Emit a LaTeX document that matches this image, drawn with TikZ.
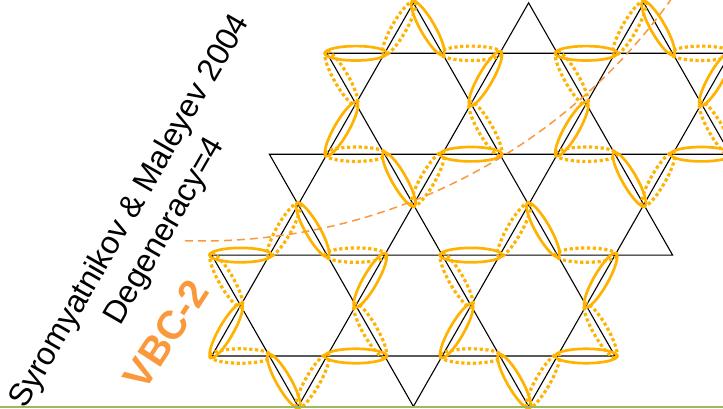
\documentclass[tikz,border=0pt]{standalone}
\usepackage{fontspec}
\setmainfont{Liberation Sans}
\usetikzlibrary{calc}
\definecolor{amber}{RGB}{255,178,0}
\definecolor{vbcorange}{RGB}{250,152,60}
\definecolor{slidegreen}{RGB}{155,187,89}

% triangle: #1 left site index, #2 base row, #3 apex row
\newcommand\vbtri[3]{%
  \pgfmathtruncatemacro\ta{#1+1}\pgfmathtruncatemacro\tb{#1+2}%
  \draw[latt] (s#1r#2) -- (s\tb r#2) -- (s\ta r#3) -- cycle;}

% ellipse on the bond between two named sites
\newcommand\bondell[3]{%
  \pgfmathanglebetweenpoints{\pgfpointanchor{#2}{center}}{\pgfpointanchor{#3}{center}}%
  \let\bondang\pgfmathresult
  \coordinate (bm) at ($(#2)!0.5!(#3)$);
  \draw[#1, rotate around={\bondang:(bm)}] (bm) ellipse [x radius=31pt, y radius=7.2pt];}

% star of ellipses round the hexagon centred at site index #1, row #2
\newcommand\vbstar[2]{%
  \pgfmathtruncatemacro\sa{#1-3}\pgfmathtruncatemacro\sb{#1-2}\pgfmathtruncatemacro\sc{#1-1}%
  \pgfmathtruncatemacro\sd{#1+1}\pgfmathtruncatemacro\se{#1+2}\pgfmathtruncatemacro\sf{#1+3}%
  \pgfmathtruncatemacro\ra{#2-2}\pgfmathtruncatemacro\rb{#2-1}%
  \pgfmathtruncatemacro\rd{#2+1}\pgfmathtruncatemacro\re{#2+2}%
  \bondell{solidell}{s#1r\ra}{s\sd r\rb}
  \bondell{dotell}{s\sd r\rb}{s\sf r\rb}
  \bondell{solidell}{s\sf r\rb}{s\se r#2}
  \bondell{dotell}{s\se r#2}{s\sf r\rd}
  \bondell{solidell}{s\sf r\rd}{s\sd r\rd}
  \bondell{dotell}{s\sd r\rd}{s#1r\re}
  \bondell{solidell}{s#1r\re}{s\sc r\rd}
  \bondell{dotell}{s\sc r\rd}{s\sa r\rd}
  \bondell{solidell}{s\sa r\rd}{s\sb r#2}
  \bondell{dotell}{s\sb r#2}{s\sa r\rb}
  \bondell{solidell}{s\sa r\rb}{s\sc r\rb}
  \bondell{dotell}{s\sc r\rb}{s#1r\ra}}

\begin{document}
\begin{tikzpicture}[x=1pt,y=1pt,
  latt/.style={black, line width=1.1pt, line join=miter},
  solidell/.style={amber, line width=2.7pt},
  dotell/.style={amber, line width=3.2pt, dash pattern=on 3.2pt off 2.6pt},
  arcdash/.style={vbcorange, line width=1.5pt, dash pattern=on 8pt off 5pt},
  citetext/.style={font=\fontsize{32}{40}\selectfont, align=center, inner sep=0pt, rotate=60},
  vbctext/.style={font=\bfseries\fontsize{40}{48}\selectfont, text=vbcorange, inner sep=0pt, rotate=57},
  greenrule/.style={slidegreen, line width=1.6pt}]
\useasboundingbox (0,0) rectangle (723,408);
\begin{scope}
\clip (0,0) rectangle (723,408);
\foreach \ii in {0,...,20}{\foreach \rr in {0,...,8}{%
  \coordinate (s\ii r\rr) at ({327+28.8*(\ii-4)},{405.15-50.45*\rr});}}
% lattice triangles
\vbtri{4}{1}{2}\vbtri{6}{1}{0}\vbtri{8}{1}{2}\vbtri{10}{1}{0}\vbtri{12}{1}{2}\vbtri{14}{1}{0}\vbtri{16}{1}{2}\vbtri{18}{1}{0}
\vbtri{2}{3}{4}\vbtri{4}{3}{2}\vbtri{6}{3}{4}\vbtri{8}{3}{2}\vbtri{10}{3}{4}\vbtri{12}{3}{2}\vbtri{14}{3}{4}\vbtri{16}{3}{2}\vbtri{18}{3}{4}
\vbtri{0}{5}{6}\vbtri{2}{5}{4}\vbtri{4}{5}{6}\vbtri{6}{5}{4}\vbtri{8}{5}{6}\vbtri{10}{5}{4}\vbtri{12}{5}{6}\vbtri{14}{5}{4}
\vbtri{0}{7}{6}\vbtri{2}{7}{8}\vbtri{4}{7}{6}\vbtri{6}{7}{8}\vbtri{8}{7}{6}\vbtri{10}{7}{8}\vbtri{12}{7}{6}
% valence bond stars
\vbstar{7}{2}
\vbstar{15}{2}
\vbstar{3}{6}
\vbstar{11}{6}
% dashed arc
\coordinate (arcc) at (202,743);
\draw[arcdash] (arcc) ++(-91.7:576) arc[start angle=-91.7, end angle=-30, radius=576];
\end{scope}
\node[citetext] (cite) at (148,186.5) {Syromyatnikov \& Maleyev 2004\\Degeneracy=4};
\node[vbctext] (vbc) at (166,73.5) {VBC-2};
\coordinate (gl) at (0,1.2);
\coordinate (gr) at (723,1.2);
\draw[greenrule] (gl) -- (gr);
\end{tikzpicture}
\end{document}
